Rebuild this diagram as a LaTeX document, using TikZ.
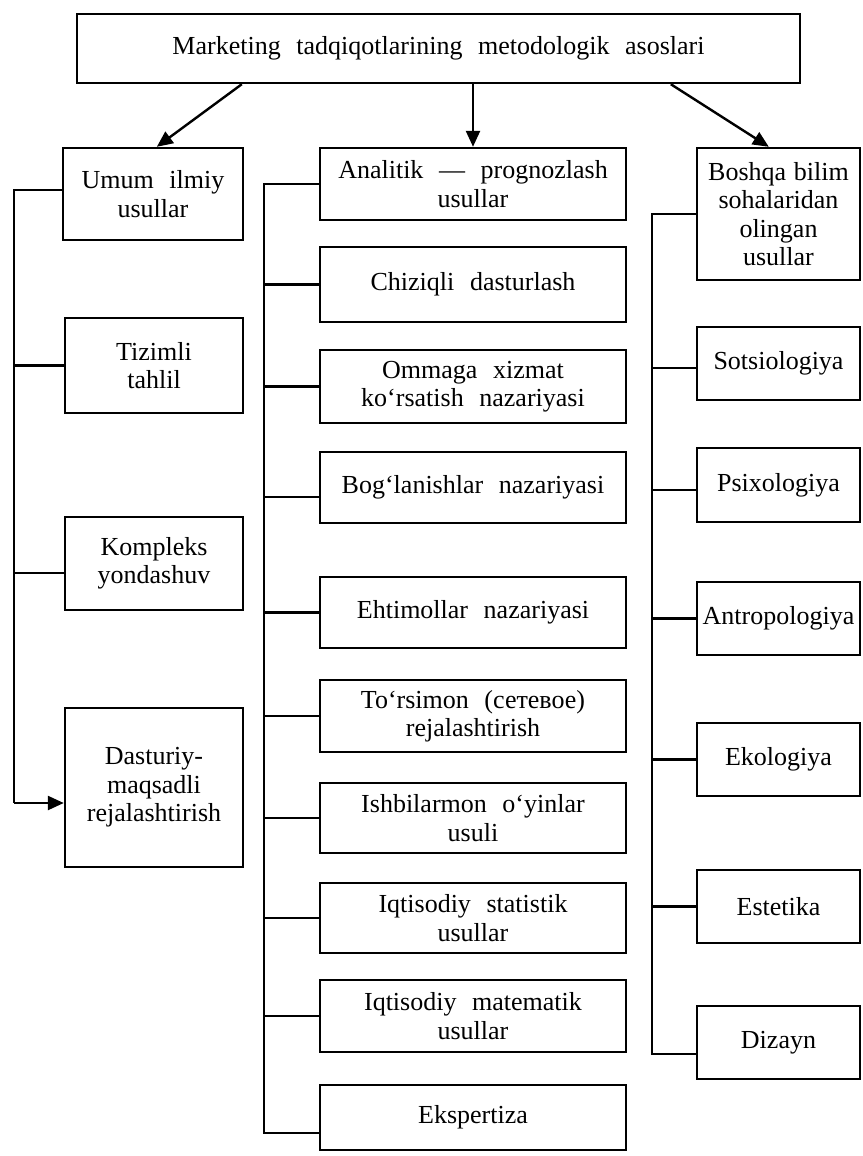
\documentclass[tikz,border=0pt]{standalone}
\usepackage{fontspec}
\setmainfont{Liberation Serif}
\usetikzlibrary{arrows.meta}
\newcommand{\widespc}{\spaceskip=0.6em plus 0.1em minus 0.05em\relax}
\newcommand{\pxbox}[6]{%
  \pgfmathsetmacro{\bw}{(#4-#2)*0.5}%
  \pgfmathsetmacro{\bh}{(#5-#3)*0.5}%
  \pgfmathsetmacro{\bcx}{(#2+#4)/2}%
  \pgfmathsetmacro{\bcy}{(#3+#5)/2}%
  \node[boxst, minimum width=\bw pt, minimum height=\bh pt] (#1) at (\bcx,\bcy) {#6};}
\begin{document}
\begin{tikzpicture}[x=0.5pt,y=-0.5pt,
  boxst/.style={draw, line width=1.2pt, align=center, inner sep=0pt,
    font=\fontsize{13}{14.2}\selectfont\widespc},
  conn/.style={line width=1.2pt},
  arr/.style={line width=1.2pt, -{Triangle[length=8pt,width=7pt]}}]
\useasboundingbox (0,0) rectangle (862,1156);

% top
\pxbox{top}{77}{14}{800}{83}{Marketing tadqiqotlarining metodologik asoslari}

% left column
\pxbox{umum}{63}{148}{243}{240}{Umum ilmiy\\usullar}
\pxbox{tiz}{65}{318}{243}{413}{Tizimli\\tahlil}
\pxbox{komp}{65}{517}{243}{610}{Kompleks\\yondashuv}
\pxbox{dast}{65}{708}{243}{867}{Dasturiy-\\maqsadli\\rejalashtirish}

% middle column
\pxbox{anal}{320}{148}{626}{220}{Analitik — prognozlash\\usullar}
\pxbox{chiz}{320}{247}{626}{322}{Chiziqli dasturlash}
\pxbox{omm}{320}{350}{626}{423}{Ommaga xizmat\\ko‘rsatish nazariyasi}
\pxbox{bog}{320}{452}{626}{523}{Bog‘lanishlar nazariyasi}
\pxbox{eht}{320}{577}{626}{648}{Ehtimollar nazariyasi}
\pxbox{tor}{320}{680}{626}{752}{To‘rsimon (сетевое)\\rejalashtirish}
\pxbox{ish}{320}{783}{626}{853}{Ishbilarmon o‘yinlar\\usuli}
\pxbox{iqs}{320}{883}{626}{953}{Iqtisodiy statistik\\usullar}
\pxbox{iqm}{320}{980}{626}{1052}{Iqtisodiy matematik\\usullar}
\pxbox{eks}{320}{1085}{626}{1150}{Ekspertiza}

% right column
\pxbox{bosh}{697}{148}{860}{280}{Boshqa\hspace{0.3em}bilim\\sohalaridan\\olingan\\usullar}
\pxbox{sots}{697}{327}{860}{400}{Sotsiologiya}
\pxbox{psix}{697}{448}{860}{522}{Psixologiya}
\pxbox{antr}{697}{582}{860}{655}{Antropologiya}
\pxbox{ekol}{697}{723}{860}{796}{Ekologiya}
\pxbox{este}{697}{870}{860}{943}{Estetika}
\pxbox{diz}{697}{1006}{860}{1079}{Dizayn}

% top arrows
\draw[arr] ([xshift=83pt]top.south west) -- ([xshift=47.5pt]umum.north west);
\draw[arr] (anal.north |- top.south) -- (anal.north);
\draw[arr] ([xshift=297.5pt]top.south west) -- ([xshift=36.5pt]bosh.north west);

% left trunk
\coordinate (L1) at (14,803);
\coordinate (umumc) at ([yshift=2pt]umum.west);
\coordinate (kompc) at ([yshift=-4.75pt]komp.west);
\draw[conn] (umumc) -| (L1);
\draw[arr] (L1) -- (L1 -| dast.west);
\draw[conn] (tiz.west) -- (tiz.west -| L1);
\draw[conn] (kompc) -- (kompc -| L1);

% middle trunk
\coordinate (M1) at (264,1133);
\coordinate (bogc) at ([yshift=-4.75pt]bog.west);
\draw[conn] (anal.west) -| (M1) -- (M1 -| eks.west);
\foreach \n in {chiz,omm,eht,tor,ish,iqs,iqm}{
  \draw[conn] (\n.west) -- (\n.west -| M1);
}
\draw[conn] (bogc) -- (bogc -| M1);

% right trunk
\coordinate (R1) at (652,1054);
\coordinate (sotsc) at ([yshift=-2.25pt]sots.west);
\coordinate (psixc) at ([yshift=-2.5pt]psix.west);
\draw[conn] (bosh.west) -| (R1) -- (R1 -| diz.west);
\draw[conn] (sotsc) -- (sotsc -| R1);
\draw[conn] (psixc) -- (psixc -| R1);
\foreach \n in {antr,ekol,este}{
  \draw[conn] (\n.west) -- (\n.west -| R1);
}
\end{tikzpicture}
\end{document}
